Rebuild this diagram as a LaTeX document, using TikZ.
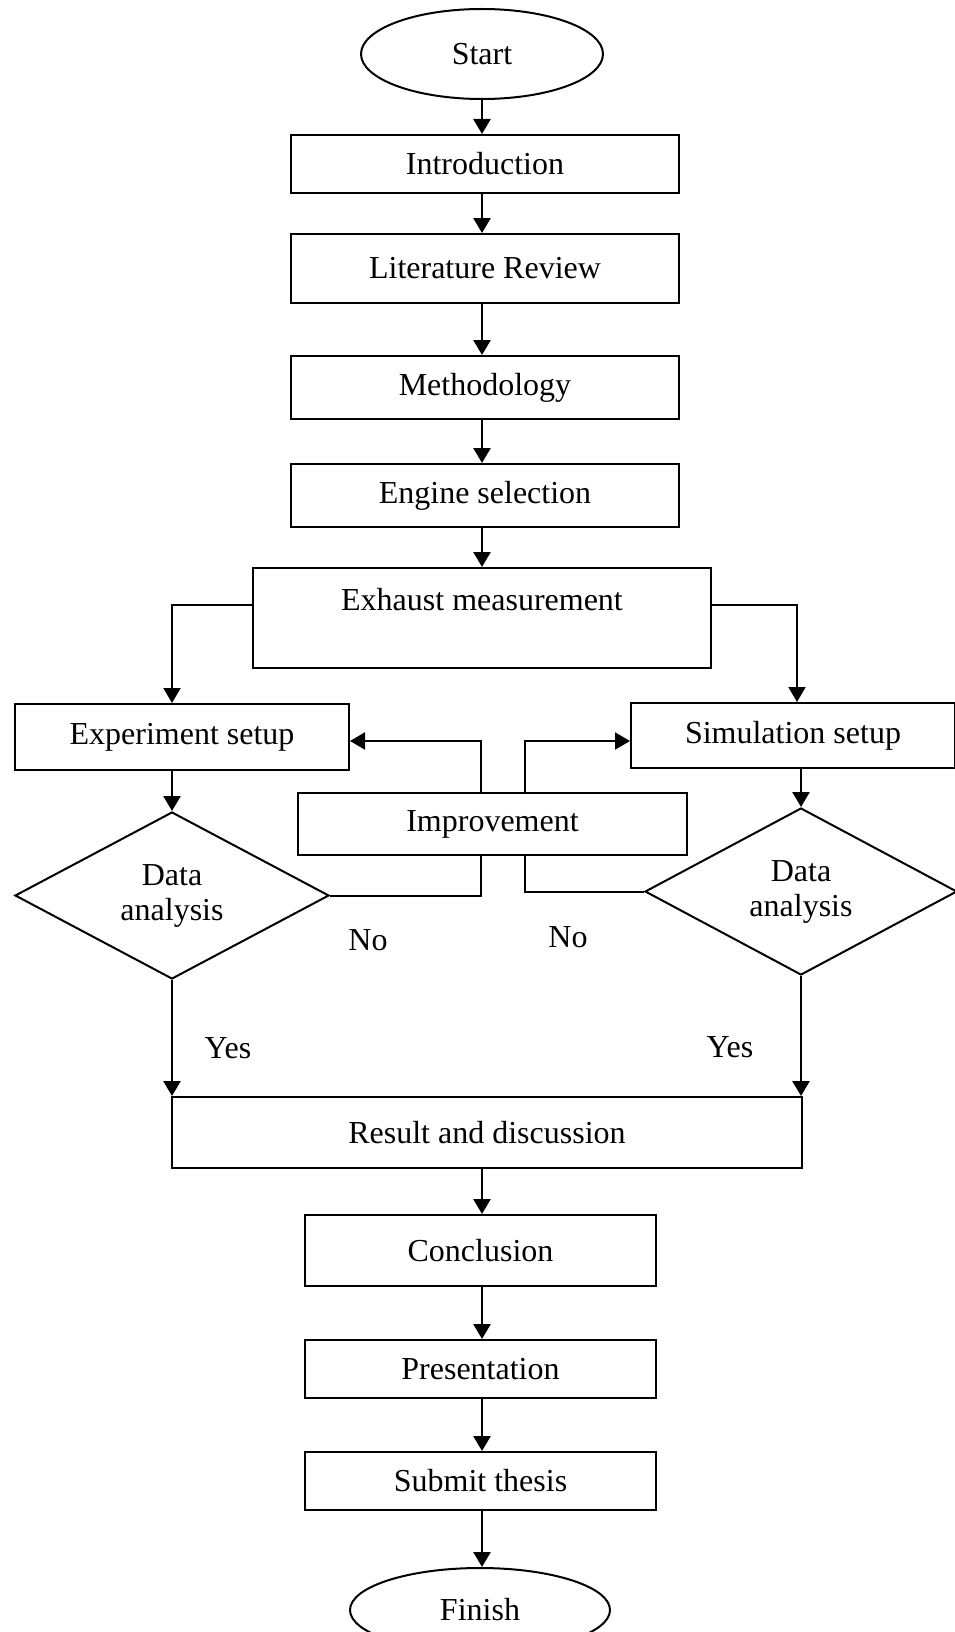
\documentclass[tikz,border=0pt]{standalone}
\usepackage{fontspec}
\setmainfont{Liberation Serif}
\usetikzlibrary{shapes.geometric,arrows.meta,calc}
\begin{document}
\begin{tikzpicture}[x=1pt,y=-1pt,
  every node/.style={font=\fontsize{32}{35}\selectfont},
  box/.style={draw, line width=2pt, rectangle, inner sep=0pt},
  term/.style={draw, line width=2pt, ellipse, inner sep=0pt},
  dec/.style={draw, line width=2pt, diamond, inner sep=0pt, align=center},
  lbl/.style={inner sep=0pt},
  arr/.style={line width=2.6pt, -{Triangle[length=15pt,width=17pt]}},
  ln/.style={line width=2pt}
]
\useasboundingbox (0,0) rectangle (955,1632);
% nodes
\node[term, minimum width=242, minimum height=90] (start) at (482,54) {Start};
\node[box, minimum width=388, minimum height=58] (intro) at (485,164) {Introduction};
\node[box, minimum width=388, minimum height=69] (lit) at (485,268.5) {Literature Review};
\node[box, minimum width=388, minimum height=63] (meth) at (485,387.5) {Methodology};
\node[box, minimum width=388, minimum height=63] (eng) at (485,495.5) {Engine selection};
\node[box, minimum width=458, minimum height=100] (exh) at (482,618) {};
\node[lbl] (exht) at (482,600) {Exhaust measurement};
\node[box, minimum width=334, minimum height=66] (exp) at (182,737) {Experiment setup};
\node[box, minimum width=324, minimum height=65] (sim) at (793,735.5) {Simulation setup};
\node[box, minimum width=389, minimum height=62] (imp) at (492.5,824) {Improvement};
\node[dec, minimum width=314, minimum height=167] (d1) at (172,895.5) {Data\\analysis};
\node[dec, minimum width=312, minimum height=167] (d2) at (801,891.5) {Data\\analysis};
\node[lbl] (no1) at (368,940) {No};
\node[lbl] (no2) at (568,937) {No};
\node[lbl] (yes1) at (228,1048) {Yes};
\node[lbl] (yes2) at (730,1047) {Yes};
\node[box, minimum width=630, minimum height=71] (res) at (487,1132.5) {Result and discussion};
\node[box, minimum width=351, minimum height=71] (conc) at (480.5,1250.5) {Conclusion};
\node[box, minimum width=351, minimum height=58] (pres) at (480.5,1369) {Presentation};
\node[box, minimum width=351, minimum height=58] (sub) at (480.5,1481) {Submit thesis};
\node[term, minimum width=260, minimum height=84] (fin) at (480,1610) {Finish};
% helper coordinates
\coordinate (cx) at (482,0);
\coordinate (bl) at (172,605);
\coordinate (br) at (797,605);
\coordinate (il) at (481,741);
\coordinate (ir) at (525,741);
% main chain
\draw[arr] (start.south -| cx) -- (intro.north -| cx);
\draw[arr] (intro.south -| cx) -- (lit.north -| cx);
\draw[arr] (lit.south -| cx) -- (meth.north -| cx);
\draw[arr] (meth.south -| cx) -- (eng.north -| cx);
\draw[arr] (eng.south -| cx) -- (exh.north -| cx);
% branches
\draw[ln, -{Triangle[length=15pt,width=17pt]}] (exh.west |- bl) -- (bl) -- (exp.north -| bl);
\draw[ln, -{Triangle[length=15pt,width=17pt]}] (exh.east |- br) -- (br) -- (sim.north -| br);
\draw[arr] (exp.south -| d1) -- (d1.north);
\draw[arr] (sim.south -| d2) -- (d2.north);
% improvement loops
\draw[ln, -{Triangle[length=15pt,width=17pt]}] (imp.north -| il) -- (il) -- (exp.east |- il);
\draw[ln, -{Triangle[length=15pt,width=17pt]}] (imp.north -| ir) -- (ir) -- (sim.west |- ir);
\draw[ln] (imp.south -| il) |- (d1.east);
\draw[ln] (imp.south -| ir) |- (d2.west);
% yes branches
\draw[arr] (d1.south) -- (d1.south |- res.north);
\draw[arr] (d2.south) -- (d2.south |- res.north);
% lower chain
\draw[arr] (res.south -| cx) -- (conc.north -| cx);
\draw[arr] (conc.south -| cx) -- (pres.north -| cx);
\draw[arr] (pres.south -| cx) -- (sub.north -| cx);
\draw[arr] (sub.south -| cx) -- (fin.north -| cx);
\end{tikzpicture}
\end{document}
